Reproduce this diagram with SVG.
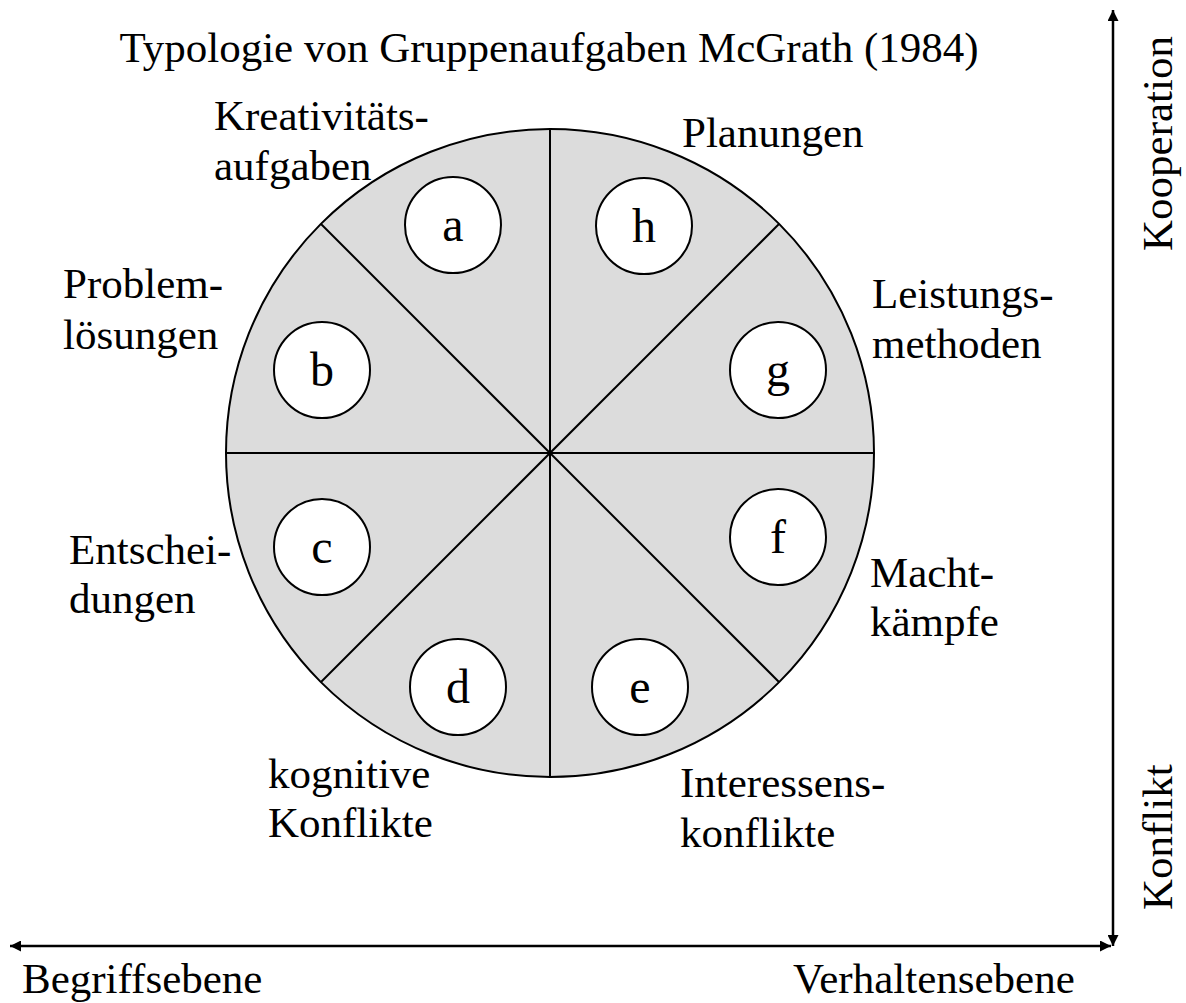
<svg xmlns="http://www.w3.org/2000/svg" width="1186" height="1003" viewBox="0 0 1186 1003">
  <style>
    text { font-family: "Liberation Serif", "Times New Roman", serif; fill: #000; }
    .lbl { font-size: 43px; }
    .ttl { font-size: 43px; }
    .ltr { font-size: 48px; text-anchor: middle; }
    .wheel { fill: #dcdcdc; stroke: #000; stroke-width: 2; }
    .div { stroke: #000; stroke-width: 2; fill: none; }
    .node circle { fill: #fff; stroke: #000; stroke-width: 2; }
    .axis { stroke: #000; stroke-width: 2.5; fill: none; }
  </style>
  <defs>
    <marker id="head" viewBox="0 0 10 10" refX="10" refY="5" markerWidth="4.4" markerHeight="4.4" orient="auto-start-reverse" markerUnits="strokeWidth">
      <path d="M0,0 L10,5 L0,10 z" fill="#000"/>
    </marker>
  </defs>

  <rect width="1186" height="1003" fill="#fff"/>

  <text class="ttl" x="549" y="62" text-anchor="middle">Typologie von Gruppenaufgaben McGrath (1984)</text>

  <!-- wheel with eight sectors -->
  <g id="wheel">
    <circle class="wheel" cx="550" cy="453" r="324"/>
    <line class="div" x1="550" y1="129" x2="550" y2="777"/>
    <line class="div" x1="226" y1="453" x2="874" y2="453"/>
    <line class="div" x1="321" y1="224" x2="779" y2="682"/>
    <line class="div" x1="779" y1="224" x2="321" y2="682"/>
  </g>

  <!-- task types -->
  <g id="node-a" class="node">
    <circle cx="453" cy="225" r="48"/>
    <text class="ltr" x="453" y="241">a</text>
    <text class="lbl" x="214" y="130">Kreativitäts-</text>
    <text class="lbl" x="214" y="180">aufgaben</text>
  </g>
  <g id="node-h" class="node">
    <circle cx="644" cy="226" r="48"/>
    <text class="ltr" x="644" y="242">h</text>
    <text class="lbl" x="682" y="147">Planungen</text>
  </g>
  <g id="node-b" class="node">
    <circle cx="322" cy="370" r="48"/>
    <text class="ltr" x="322" y="386">b</text>
    <text class="lbl" x="63" y="298">Problem-</text>
    <text class="lbl" x="63" y="349">lösungen</text>
  </g>
  <g id="node-g" class="node">
    <circle cx="778" cy="370" r="48"/>
    <text class="ltr" x="778" y="386">g</text>
    <text class="lbl" x="872" y="308">Leistungs-</text>
    <text class="lbl" x="872" y="358">methoden</text>
  </g>
  <g id="node-c" class="node">
    <circle cx="322" cy="547" r="48"/>
    <text class="ltr" x="322" y="563">c</text>
    <text class="lbl" x="69" y="564">Entschei-</text>
    <text class="lbl" x="69" y="613">dungen</text>
  </g>
  <g id="node-f" class="node">
    <circle cx="778" cy="537" r="48"/>
    <text class="ltr" x="778" y="553">f</text>
    <text class="lbl" x="870" y="587">Macht-</text>
    <text class="lbl" x="870" y="636">kämpfe</text>
  </g>
  <g id="node-d" class="node">
    <circle cx="458" cy="687" r="48"/>
    <text class="ltr" x="458" y="703">d</text>
    <text class="lbl" x="268" y="788">kognitive</text>
    <text class="lbl" x="268" y="837">Konflikte</text>
  </g>
  <g id="node-e" class="node">
    <circle cx="640" cy="687" r="48"/>
    <text class="ltr" x="640" y="703">e</text>
    <text class="lbl" x="680" y="797">Interessens-</text>
    <text class="lbl" x="680" y="847">konflikte</text>
  </g>

  <!-- axes -->
  <g id="connectors">
    <line class="axis" x1="1113" y1="10" x2="1113" y2="946" marker-start="url(#head)" marker-end="url(#head)"/>
    <line class="axis" x1="10" y1="946" x2="1111" y2="946" marker-start="url(#head)" marker-end="url(#head)"/>
  </g>

  <text class="lbl" transform="translate(1172,251) rotate(-90)">Kooperation</text>
  <text class="lbl" transform="translate(1172,910) rotate(-90)">Konflikt</text>
  <text class="lbl" x="22" y="993">Begriffsebene</text>
  <text class="lbl" x="793" y="993">Verhaltensebene</text>
</svg>
